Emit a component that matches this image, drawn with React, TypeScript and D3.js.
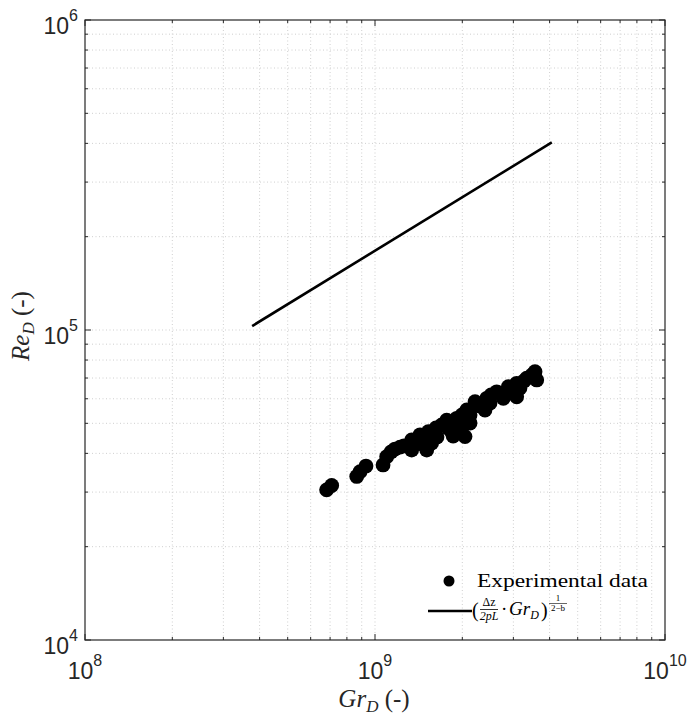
import React, { useEffect, useRef } from 'react';
import * as d3 from 'd3';

// experimental data: Gr_D vs Re_D
const grData: number[] = [
  6.81e8, 7.09e8, 8.65e8, 8.88e8, 9.31e8, 1.066e9, 1.097e9, 1.136e9, 1.172e9, 1.338e9,
  1.338e9, 1.43e9, 1.508e9, 1.527e9, 1.568e9, 1.698e9, 1.767e9, 1.838e9, 1.913e9, 1.991e9,
  2.044e9, 2.072e9, 2.127e9, 2.213e9, 2.302e9, 2.395e9, 2.428e9, 2.628e9, 2.77e9, 2.883e9,
  3.08e9, 3.08e9, 3.335e9, 3.563e9, 3.612e9, 1.259e9, 1.623e9, 1.964e9, 2.512e9, 3.264e9,
  3.478e9, 2.968e9, 1.22e9, 1.407e9, 1.636e9, 1.785e9, 1.888e9, 1.995e9, 2.127e9, 2.266e9,
  2.493e9, 2.698e9, 3.162e9, 3.478e9, 1.48e9, 1.86e9, 1.94e9,
];
const reData: number[] = [
  3.05e4, 3.15e4, 3.37e4, 3.49e4, 3.64e4, 3.67e4, 3.9e4, 4.04e4, 4.13e4, 4.1e4,
  4.42e4, 4.59e4, 4.1e4, 4.7e4, 4.32e4, 4.94e4, 5.12e4, 4.7e4, 5.19e4, 4.64e4,
  4.53e4, 5.52e4, 5.01e4, 5.87e4, 5.69e4, 5.52e4, 6.02e4, 6.32e4, 6.02e4, 6.56e4,
  6.09e4, 6.73e4, 6.99e4, 7.34e4, 6.9e4, 4.23e4, 4.83e4, 4.94e4, 6.17e4, 6.85e4,
  7.16e4, 6.41e4, 4.19e4, 4.32e4, 4.52e4, 4.83e4, 4.94e4, 5.32e4, 5.32e4, 5.73e4,
  5.81e4, 6.26e4, 6.5e4, 7.11e4, 4.25e4, 4.55e4, 4.72e4,
];

// model line (Δz/2pL · Gr_D)^(1/(2-b))
const grModel: number[] = [3.77e8, 4.07e9];
const reModel: number[] = [1.03e5, 4.03e5];

const xMajor: number[] = [1e8, 1e9, 1e10];
const xMajorExp: string[] = ['8', '9', '10'];
const yMajor: number[] = [1e4, 1e5, 1e6];
const yMajorExp: string[] = ['4', '5', '6'];

const W = 689;
const H = 717;
const margin = { top: 20, right: 24, bottom: 77, left: 85 };

function minorTicks(lo: number, hi: number): number[] {
  const out: number[] = [];
  for (let e = lo; e < hi; e++) {
    for (let k = 2; k <= 9; k++) out.push(k * Math.pow(10, e));
  }
  return out;
}

function App() {
  const svgRef = useRef<SVGSVGElement | null>(null);

  useEffect(() => {
    const svg = d3.select(svgRef.current);
    svg.selectAll('*').remove();

    const x = d3.scaleLog().domain([1e8, 1e10]).range([margin.left, W - margin.right]);
    const y = d3.scaleLog().domain([1e4, 1e6]).range([H - margin.bottom, margin.top]);
    const x0 = margin.left, x1 = W - margin.right;
    const y0 = H - margin.bottom, y1 = margin.top;

    const xMinor = minorTicks(8, 10);
    const yMinor = minorTicks(4, 6);
    const axisColor = '#262626';

    // grid
    const grid = svg.append('g')
      .attr('stroke', '#cfcfcf')
      .attr('stroke-width', 1)
      .attr('stroke-dasharray', '1,2.5');
    grid.selectAll('.gx').data([...xMinor, 1e9]).enter().append('line')
      .attr('x1', d => x(d)).attr('x2', d => x(d)).attr('y1', y0).attr('y2', y1);
    grid.selectAll('.gy').data([...yMinor, 1e5]).enter().append('line')
      .attr('y1', d => y(d)).attr('y2', d => y(d)).attr('x1', x0).attr('x2', x1);

    // model line
    const line = d3.line<number>()
      .x((_, i) => x(grModel[i]))
      .y(d => y(d));
    svg.append('path')
      .attr('d', line(reModel) || '')
      .attr('fill', 'none')
      .attr('stroke', '#000')
      .attr('stroke-width', 2.6);

    // data
    svg.append('g').selectAll('circle').data(grData).enter().append('circle')
      .attr('cx', d => x(d))
      .attr('cy', (_, i) => y(reData[i]))
      .attr('r', 7.4)
      .attr('fill', '#000');

    // ticks (inward, all sides)
    const ticks = svg.append('g').attr('stroke', axisColor).attr('stroke-width', 1);
    const xt = [...xMinor.map(v => ({ v, l: 3 })), ...xMajor.map(v => ({ v, l: 6 }))];
    const yt = [...yMinor.map(v => ({ v, l: 3 })), ...yMajor.map(v => ({ v, l: 6 }))];
    xt.forEach(t => {
      ticks.append('line').attr('x1', x(t.v)).attr('x2', x(t.v)).attr('y1', y0).attr('y2', y0 - t.l);
      ticks.append('line').attr('x1', x(t.v)).attr('x2', x(t.v)).attr('y1', y1).attr('y2', y1 + t.l);
    });
    yt.forEach(t => {
      ticks.append('line').attr('y1', y(t.v)).attr('y2', y(t.v)).attr('x1', x0).attr('x2', x0 + t.l);
      ticks.append('line').attr('y1', y(t.v)).attr('y2', y(t.v)).attr('x1', x1).attr('x2', x1 - t.l);
    });

    // box
    svg.append('rect')
      .attr('x', x0).attr('y', y1).attr('width', x1 - x0).attr('height', y0 - y1)
      .attr('fill', 'none').attr('stroke', axisColor).attr('stroke-width', 1.2);

    // tick labels
    const sans = 'Liberation Sans, Arial, Helvetica, sans-serif';
    xMajor.forEach((v, i) => {
      const t = svg.append('text')
        .attr('x', x(v)).attr('y', y0 + 39)
        .attr('text-anchor', 'middle')
        .attr('font-family', sans).attr('font-size', 23).attr('fill', axisColor);
      t.append('tspan').text('10');
      t.append('tspan').attr('dy', -13).attr('font-size', 16).text(xMajorExp[i]);
    });
    yMajor.forEach((v, i) => {
      const t = svg.append('text')
        .attr('x', x0 - 7).attr('y', y(v) + 14)
        .attr('text-anchor', 'end')
        .attr('font-family', sans).attr('font-size', 23).attr('fill', axisColor);
      t.append('tspan').text('10');
      t.append('tspan').attr('dy', -13).attr('font-size', 16).text(yMajorExp[i]);
    });

    // axis titles
    const serif = 'Liberation Serif, Times New Roman, serif';
    const xt2 = svg.append('text')
      .attr('x', 374).attr('y', 707)
      .attr('text-anchor', 'middle')
      .attr('font-family', serif).attr('font-size', 25).attr('fill', axisColor);
    xt2.append('tspan').attr('font-style', 'italic').text('Gr');
    xt2.append('tspan').attr('font-style', 'italic').attr('font-size', 17).attr('dy', 5).text('D');
    xt2.append('tspan').attr('dy', -5).text('\u00a0(-)');

    const yt2 = svg.append('text')
      .attr('transform', `translate(29,326) rotate(-90)`)
      .attr('text-anchor', 'middle')
      .attr('font-family', serif).attr('font-size', 25).attr('fill', axisColor);
    yt2.append('tspan').attr('font-style', 'italic').text('Re');
    yt2.append('tspan').attr('font-style', 'italic').attr('font-size', 17).attr('dy', 5).text('D');
    yt2.append('tspan').attr('dy', -5).text('\u00a0(-)');

    // legend
    const lg = svg.append('g').attr('font-family', serif).attr('fill', '#000');
    lg.append('circle').attr('cx', 449).attr('cy', 581).attr('r', 5.5).attr('fill', '#000');
    lg.append('text').attr('x', 477).attr('y', 587).attr('font-size', 19)
      .attr('textLength', 171).attr('lengthAdjust', 'spacingAndGlyphs')
      .text('Experimental data');
    lg.append('line').attr('x1', 428).attr('x2', 472).attr('y1', 611).attr('y2', 611)
      .attr('stroke', '#000').attr('stroke-width', 2.6);
    lg.append('text').attr('x', 472).attr('y', 617).attr('font-size', 20).text('(');
    lg.append('text').attr('x', 489).attr('y', 606).attr('font-size', 12).attr('text-anchor', 'middle').text('\u0394z');
    lg.append('line').attr('x1', 480).attr('x2', 498).attr('y1', 609.5).attr('y2', 609.5)
      .attr('stroke', '#000').attr('stroke-width', 0.8);
    lg.append('text').attr('x', 489).attr('y', 620).attr('font-size', 12).attr('text-anchor', 'middle')
      .attr('font-style', 'italic').text('2pL');
    lg.append('text').attr('x', 501).attr('y', 615).attr('font-size', 19).text('\u00b7');
    const gr = lg.append('text').attr('x', 509).attr('y', 615).attr('font-size', 19).attr('font-style', 'italic');
    gr.append('tspan').text('Gr');
    gr.append('tspan').attr('font-size', 12).attr('dy', 4).text('D');
    lg.append('text').attr('x', 541).attr('y', 617).attr('font-size', 20).text(')');
    lg.append('text').attr('x', 558).attr('y', 601).attr('font-size', 9).attr('text-anchor', 'middle').text('1');
    lg.append('line').attr('x1', 549).attr('x2', 567).attr('y1', 603.5).attr('y2', 603.5)
      .attr('stroke', '#000').attr('stroke-width', 0.6);
    lg.append('text').attr('x', 558).attr('y', 611).attr('font-size', 9).attr('text-anchor', 'middle').text('2\u2212b');
  }, []);

  return (
    <svg ref={svgRef} width={W} height={H}
      style={{ position: 'absolute', left: 0, top: 0, background: '#fff' }} />
  );
}

export default App;
